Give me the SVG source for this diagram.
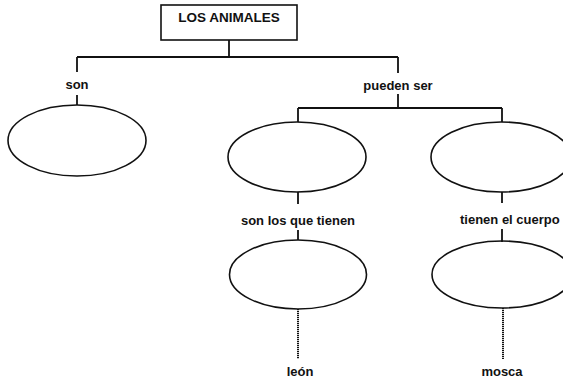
<svg xmlns="http://www.w3.org/2000/svg" width="563" height="381" viewBox="0 0 563 381">
  <style>
    .bg { fill: #ffffff; }
    .box { fill: #ffffff; stroke: #111; stroke-width: 1.6; }
    .node { fill: none; stroke: #111; stroke-width: 1.6; }
    .link { fill: none; stroke: #111; stroke-width: 1.8; }
    .dots { fill: none; stroke: #111; stroke-width: 2; stroke-dasharray: 1.2 0.8; }
    text { font-family: "Liberation Sans", Arial, sans-serif; font-size: 13px; font-weight: bold; fill: #111; }
    .c { text-anchor: middle; }
  </style>
  <rect class="bg" x="0" y="0" width="563" height="381"/>

  <!-- connectors -->
  <g id="connectors">
    <path class="link" d="M229 40 V57 M77 57 H398 M77 57 V72 M398 57 V73"/>
    <path class="link" d="M77 95 V105"/>
    <path class="link" d="M398 94 V108 M298 108 H502 M298 108 V122 M502 108 V122"/>
    <path class="link" d="M298 192 V204 M298 230 V240"/>
    <path class="link" d="M502 192 V203 M502 229 V242"/>
    <path class="dots" d="M298 309 V359 M503 308 V359"/>
  </g>

  <!-- labels on connectors -->
  <g id="labels">
    <text class="c" x="77" y="89">son</text>
    <text class="c" x="398" y="90">pueden ser</text>
    <text class="c" x="298" y="225">son los que tienen</text>
    <text x="460" y="224">tienen el cuerpo</text>
    <text class="c" x="300" y="376">león</text>
    <text class="c" x="502" y="376">mosca</text>
  </g>

  <g id="root">
    <rect class="box" x="161" y="5" width="136" height="35"/>
    <text class="c" x="229" y="22" style="font-size:13.5px">LOS ANIMALES</text>
  </g>

  <g id="son-node">
    <ellipse class="node" cx="77" cy="140.5" rx="69" ry="35.5"/>
  </g>
  <g id="left-upper">
    <ellipse class="node" cx="297" cy="157" rx="69" ry="35"/>
  </g>
  <g id="right-upper">
    <ellipse class="node" cx="501" cy="157" rx="70" ry="35"/>
  </g>
  <g id="left-lower">
    <ellipse class="node" cx="298" cy="274.5" rx="68.5" ry="34.5"/>
  </g>
  <g id="right-lower">
    <ellipse class="node" cx="502" cy="274.5" rx="70" ry="33.5"/>
  </g>
</svg>
